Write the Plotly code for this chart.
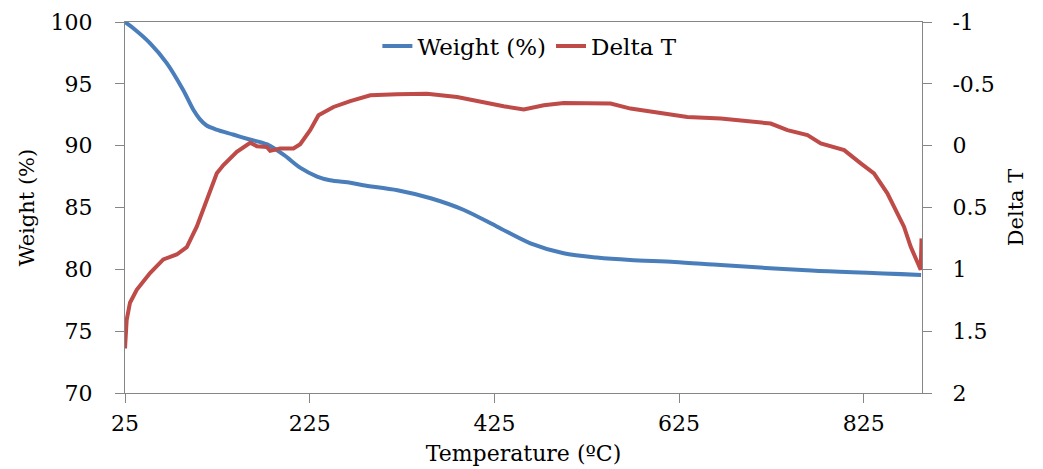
import plotly.graph_objects as go

# ---- data ----
temp_weight = [25, 34, 52, 70, 88, 99, 106, 113, 124, 142, 160, 179, 197, 215, 233, 247,
               269, 283, 320, 356, 392, 428, 464, 500, 536, 572, 620, 670, 768, 887]
weight_pct = [100, 99.5, 98.3, 96.7, 94.5, 92.9, 92.15, 91.65, 91.3, 90.9, 90.5, 90.1, 89.25,
              88.2, 87.5, 87.2, 87.0, 86.8, 86.4, 85.75, 84.8, 83.45, 82.1, 81.3, 80.95,
              80.75, 80.6, 80.35, 79.9, 79.55]

temp_delta = [25, 26.8, 30.4, 37.7, 52.1, 66.5, 81.0, 91.9, 102.7, 113.6, 124.4, 131.6,
              146.1, 160.5, 167.8, 178.6, 182.2, 193.0, 207.4, 214.7, 225.5, 234.5, 250.8,
              268.9, 290.6, 319.5, 352, 384.6, 409.8, 435, 456.8, 478.5, 500.1, 529.1,
              550.8, 572.4, 597.7, 633.9, 670, 706, 724.2, 742.3, 764, 778.4, 803.7,
              821.7, 836, 850.5, 861.3, 868.5, 875.7, 886.6, 887.5]
delta_t = [1.64, 1.41, 1.27, 1.165, 1.03, 0.92, 0.88, 0.82, 0.655, 0.44, 0.224, 0.157,
           0.05, -0.023, 0.004, 0.01, 0.042, 0.023, 0.023, -0.012, -0.125, -0.246, -0.313,
           -0.36, -0.407, -0.415, -0.42, -0.394, -0.353, -0.319, -0.292, -0.327, -0.345,
           -0.34, -0.34, -0.30, -0.273, -0.232, -0.219, -0.192, -0.179, -0.125, -0.085,
           -0.018, 0.036, 0.143, 0.224, 0.385, 0.547, 0.655, 0.816, 1.004, 0.75]

x_ticks = [25, 225, 425, 625, 825]
left_ticks = [70, 75, 80, 85, 90, 95, 100]
right_ticks = [-1, -0.5, 0, 0.5, 1, 1.5, 2]
right_ticktext = ["-1", "-0.5", "0", "0.5", "1", "1.5", "2"]

FONT = "DejaVu Serif"
AXIS_COLOR = "#868686"

fig = go.Figure()
fig.add_trace(go.Scatter(x=temp_weight, y=weight_pct, name="Weight (%)", mode="lines",
                         line=dict(color="#4A7EBB", width=4, shape="spline", smoothing=0.8)))
fig.add_trace(go.Scatter(x=temp_delta, y=delta_t, name="Delta T", mode="lines", yaxis="y2",
                         line=dict(color="#BE4B48", width=4)))

fig.update_layout(
    width=1043, height=469,
    margin=dict(l=125, r=121, t=22, b=76, autoexpand=False),
    paper_bgcolor="white", plot_bgcolor="white",
    font=dict(family=FONT, size=22, color="#000000"),
    showlegend=True,
    legend=dict(orientation="h", x=0.508, y=0.935, xanchor="center", yanchor="middle",
                font=dict(family=FONT, size=23), bgcolor="rgba(0,0,0,0)",
                itemwidth=30, tracegroupgap=0),
    xaxis=dict(range=[25, 888], tickvals=x_ticks, showgrid=False, zeroline=False,
               showline=True, linecolor=AXIS_COLOR, linewidth=1, mirror=True,
               ticks="outside", ticklen=9, tickcolor=AXIS_COLOR, ticklabelstandoff=2,
               automargin=False,
               title=dict(text="Temperature (ºC)", standoff=10, font=dict(size=22))),
    yaxis=dict(range=[70, 100], tickvals=left_ticks, showgrid=False, zeroline=False,
               showline=True, linecolor=AXIS_COLOR, linewidth=1,
               ticks="outside", ticklen=9, tickcolor=AXIS_COLOR, ticklabelstandoff=18,
               automargin=False,
               title=dict(text="Weight (%)", standoff=10, font=dict(size=21))),
    yaxis2=dict(range=[2, -1], tickvals=right_ticks, ticktext=right_ticktext,
                overlaying="y", side="right", showgrid=False, zeroline=False,
                showline=True, linecolor=AXIS_COLOR, linewidth=1,
                ticks="outside", ticklen=9, tickcolor=AXIS_COLOR, ticklabelstandoff=16,
                automargin=False,
                title=dict(text="Delta T", standoff=14, font=dict(size=21))),
)

fig.write_html("out.html")
